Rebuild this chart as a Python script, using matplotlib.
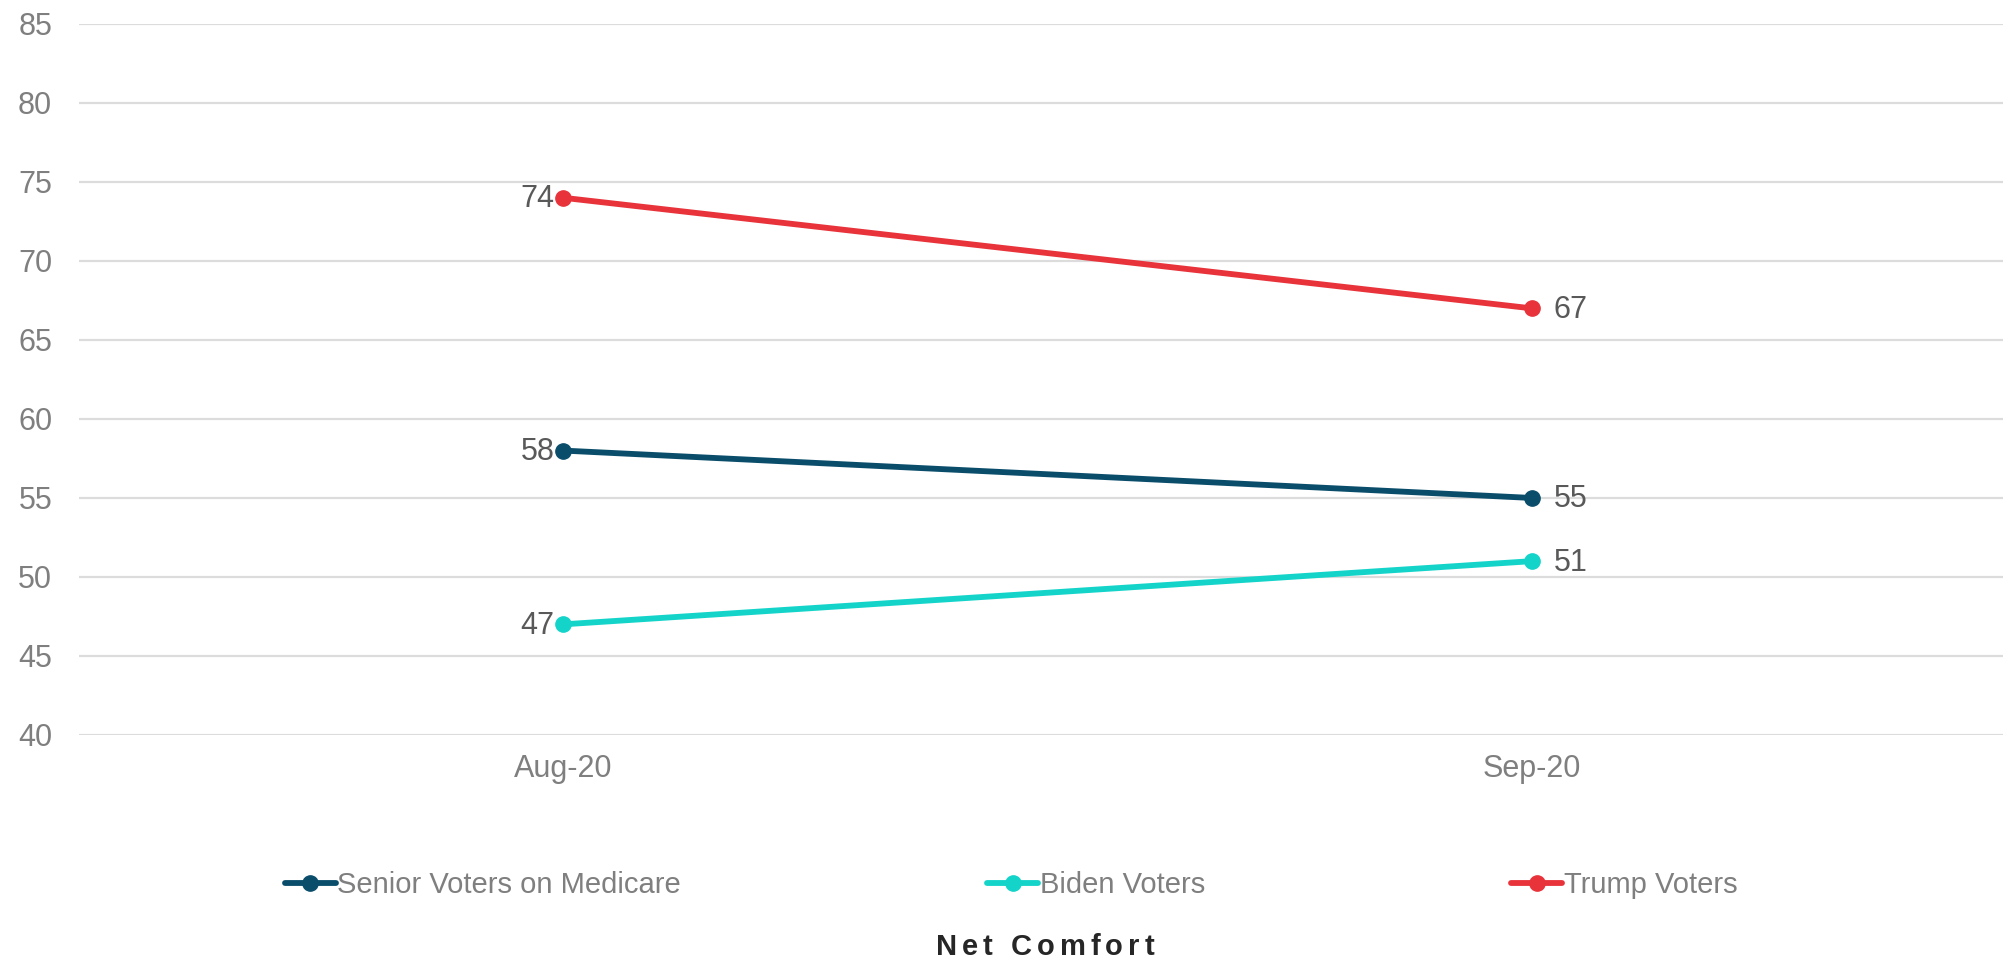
import matplotlib
matplotlib.use("Agg")
import matplotlib.pyplot as plt
from matplotlib.font_manager import FontProperties

plt.rcParams['font.family'] = ['Liberation Sans', 'DejaVu Sans']

# data
months = ['Aug-20', 'Sep-20']
senior = [58, 55]
biden = [47, 51]
trump = [74, 67]
series_names = ['Senior Voters on Medicare', 'Biden Voters', 'Trump Voters']
series_colors = ['#0a4d6b', '#14d4ca', '#e8333b']
y_ticks = list(range(40, 90, 5))

fig = plt.figure(figsize=(20.03, 9.61), dpi=100)
ax = fig.add_axes([0.0392, 0.2352, 0.9673, 0.7399])

x = list(range(len(months)))
handles = []
for vals, name, col in zip([senior, biden, trump], series_names, series_colors):
    h, = ax.plot(x, vals, color=col, lw=4.2, marker='o', ms=11,
                 solid_capstyle='round', label=name, zorder=3)
    handles.append(h)
    # data labels: left of first point, right of last point
    ax.annotate(str(vals[0]), (x[0], vals[0]), xytext=(-6, -1), textcoords='offset points',
                ha='right', va='center', fontsize=22, color='#595959')
    ax.annotate(str(vals[-1]), (x[-1], vals[-1]), xytext=(16, -1), textcoords='offset points',
                ha='left', va='center', fontsize=22, color='#595959')

ax.set_xlim(-0.5, 1.5)
ax.set_ylim(40, 85)
ax.set_yticks(y_ticks)
ax.set_xticks(x)
ax.set_xticklabels(months)
ax.yaxis.grid(True, color='#dcdcdc', lw=1.6)
ax.set_axisbelow(True)
for s in ax.spines.values():
    s.set_visible(False)
ax.tick_params(axis='y', length=0, pad=19, labelsize=22, labelcolor='#7f7f7f')
ax.tick_params(axis='x', length=0, pad=14, labelsize=22, labelcolor='#7f7f7f')

leg = ax.legend(handles, series_names, loc='center', bbox_to_anchor=(1011 / 2003, 1 - 885 / 961),
                bbox_transform=fig.transFigure, ncol=3, frameon=False, fontsize=21,
                handlelength=1.75, handletextpad=0.05, columnspacing=10.5, labelcolor='#7f7f7f')

# "Net Comfort" with letter spacing, placed char by char
title = 'Net Comfort'
fp = FontProperties(family=['Liberation Sans', 'DejaVu Sans'], weight='bold', size=21)
renderer = fig.canvas.get_renderer()
def text_w(s):
    w, h, d = renderer.get_text_width_height_descent(s, fp, ismath=False)
    return w
spacing = 5.0
total = text_w(title) + spacing * (len(title) - 1)
x0 = 1045 - total / 2
y_t = 1 - 947 / 961
for i, ch in enumerate(title):
    if ch == ' ':
        continue
    left = text_w(title[:i + 1]) - text_w(ch) + spacing * i
    fig.text((x0 + left) / 2003, y_t, ch, fontproperties=fp, color='#262626',
             ha='left', va='center')

fig.savefig('out.png', dpi=100)
